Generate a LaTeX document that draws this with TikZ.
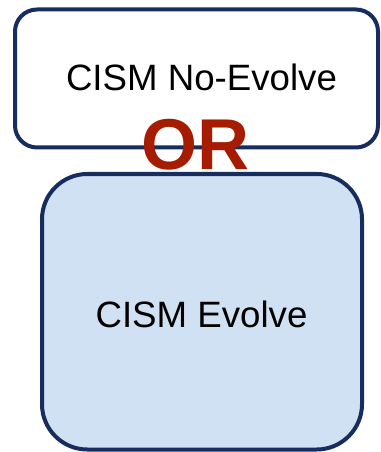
\documentclass[tikz,border=0pt]{standalone}
\usepackage{fontspec}
\setmainfont{Liberation Sans}
\definecolor{navy}{HTML}{172D5F}
\definecolor{boxblue}{HTML}{CFE1F3}
\definecolor{orred}{HTML}{A51C00}
\begin{document}
\begin{tikzpicture}[x=0.75pt,y=-0.75pt,
  boxframe/.style={draw=navy,line width=3pt},
  lbl/.style={font=\fontsize{27.5}{30}\selectfont,text=black,anchor=base,inner sep=0pt}]
\useasboundingbox (0,0) rectangle (380,452);
\draw[boxframe,fill=white,rounded corners=16.5pt] (15,9.5) rectangle (378,147.5);
\node[lbl] (noevolve) at (201.5,91) {CISM No-Evolve};
\draw[boxframe,fill=boxblue,rounded corners=34pt] (42,174) rectangle (362,449.5);
\node[lbl] (evolve) at (201.5,327) {CISM Evolve};
\node[anchor=base,inner sep=0pt,text=orred,font=\fontsize{54}{60}\selectfont\bfseries] (or) at (195.5,170) {OR};
\end{tikzpicture}
\end{document}
